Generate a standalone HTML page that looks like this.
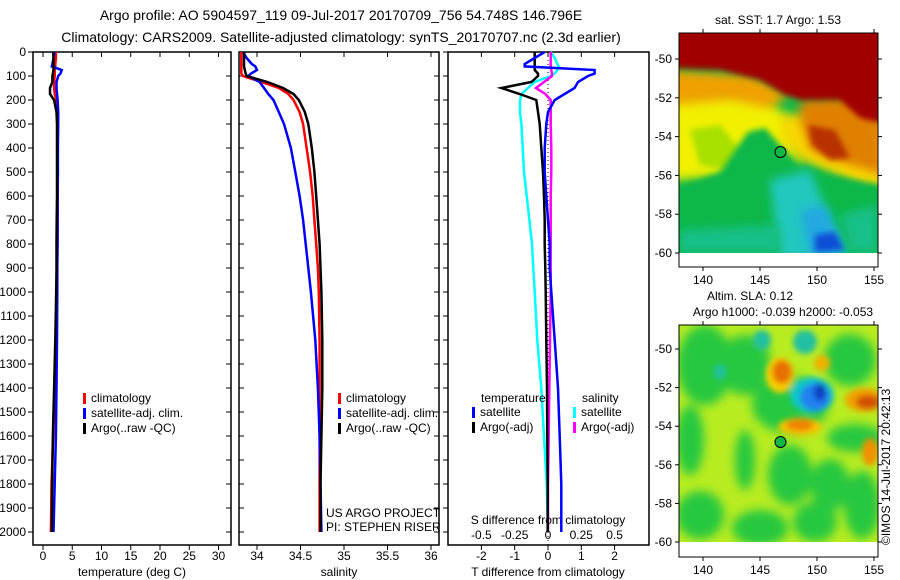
<!DOCTYPE html>
<html><head><meta charset="utf-8"><style>
body{margin:0;background:#fff;}
svg{display:block;font-family:"Liberation Sans",sans-serif;}
text{font-size:12px;fill:#000;}
.tt{font-size:14px;}
</style></head><body>
<svg id="fig" width="900" height="580" viewBox="0 0 900 580">
<defs>
<filter id="bl" x="-20%" y="-20%" width="140%" height="140%"><feGaussianBlur stdDeviation="5"/></filter>
<filter id="bl2" x="-20%" y="-20%" width="140%" height="140%"><feGaussianBlur stdDeviation="3"/></filter>
<clipPath id="c1"><rect x="679" y="33" width="199" height="220"/></clipPath>
<clipPath id="c2"><rect x="679" y="325" width="199" height="217"/></clipPath>
</defs>
<text class="tt" x="341" y="20" text-anchor="middle">Argo profile: AO 5904597_119 09-Jul-2017 20170709_756 54.748S 146.796E</text>
<text class="tt" x="341" y="42" text-anchor="middle">Climatology: CARS2009. Satellite-adjusted climatology: synTS_20170707.nc (2.3d earlier)</text>
<g id="p1"></g>
<g id="p2"></g>
<g id="p3"></g>

<g>
<text x="778" y="24" text-anchor="middle">sat. SST: 1.7 Argo: 1.53</text>
<g clip-path="url(#c1)">
<rect x="679" y="33" width="199" height="220" fill="#10b848"/>
<polygon filter="url(#bl)" fill="#f0f000" points="670,90 760,90 790,120 800,170 679,180 670,180"/>
<polygon filter="url(#bl2)" fill="#a8e000" points="690,130 720,125 740,150 725,170 700,165"/>
<polygon filter="url(#bl)" fill="#f8d800" points="780,115 890,110 890,190 860,185 800,160 782,140"/>
<polygon filter="url(#bl)" fill="#f0a000" points="670,70 750,75 790,95 770,108 730,100 670,105"/>
<polygon filter="url(#bl)" fill="#e08000" points="800,100 880,95 885,175 850,165 810,150 800,120"/>
<polygon filter="url(#bl2)" fill="#b83000" points="808,125 835,130 850,158 830,160 812,145"/>
<polygon filter="url(#bl2)" fill="#a00000" points="670,25 890,25 890,125 860,118 840,100 800,100 785,95 760,80 720,70 670,68"/>
<polygon filter="url(#bl2)" fill="#10b848" points="670,190 700,180 720,172 735,150 748,132 765,128 780,145 800,165 830,175 878,185 890,190 890,260 670,260"/>
<polygon filter="url(#bl)" fill="#20c8c0" points="770,180 810,170 830,220 850,260 780,260"/>
<polygon filter="url(#bl)" fill="#20a8e0" points="800,210 825,205 845,250 810,258"/>
<polygon filter="url(#bl2)" fill="#1050d8" points="815,235 835,232 845,250 815,252"/>
<polygon filter="url(#bl)" fill="#18c088" points="679,230 780,225 780,253 679,253"/>
<polygon filter="url(#bl)" fill="#18c088" points="840,215 878,205 878,253 850,253"/>
</g>
<rect x="679" y="253" width="199" height="14" fill="#fff"/>
<rect x="679" y="33" width="199" height="234" fill="none" stroke="#000"/>
<circle cx="780.5" cy="152" r="5.5" fill="#10b848" stroke="#000"/>
<g id="m1ax"></g>
</g>

<g>
<text x="750" y="300" text-anchor="middle">Altim. SLA: 0.12</text>
<text x="783" y="316" text-anchor="middle">Argo h1000: -0.039 h2000: -0.053</text>
<g clip-path="url(#c2)">
<rect x="679" y="325" width="199" height="217" fill="#b8ec20"/>
<g filter="url(#bl)" fill="#28c840">
<ellipse cx="705" cy="365" rx="28" ry="40"/><ellipse cx="690" cy="440" rx="14" ry="35"/>
<ellipse cx="745" cy="365" rx="26" ry="30"/><ellipse cx="790" cy="475" rx="22" ry="30"/>
<ellipse cx="830" cy="485" rx="20" ry="26"/><ellipse cx="700" cy="515" rx="24" ry="24"/>
<ellipse cx="760" cy="528" rx="28" ry="18"/><ellipse cx="815" cy="522" rx="22" ry="20"/>
<ellipse cx="862" cy="505" rx="18" ry="34"/><ellipse cx="850" cy="360" rx="26" ry="26"/>
<ellipse cx="790" cy="405" rx="38" ry="28"/><ellipse cx="855" cy="438" rx="28" ry="14"/>
<ellipse cx="745" cy="460" rx="10" ry="30"/>
</g>
<g filter="url(#bl2)">
<ellipse cx="762" cy="340" rx="9" ry="10" fill="#20c0a0"/>
<ellipse cx="805" cy="342" rx="12" ry="12" fill="#20c0a0"/>
<ellipse cx="720" cy="372" rx="6" ry="8" fill="#20c0a0"/>
<ellipse cx="780" cy="375" rx="14" ry="18" fill="#f8d000"/>
<ellipse cx="782" cy="372" rx="10" ry="12" fill="#e87000"/>
<ellipse cx="822" cy="363" rx="8" ry="8" fill="#f0b000"/>
<ellipse cx="812" cy="395" rx="22" ry="18" fill="#10c8c8"/>
<ellipse cx="815" cy="397" rx="15" ry="14" fill="#2080f0"/>
<ellipse cx="820" cy="392" rx="6" ry="9" fill="#1040c0"/>
<ellipse cx="800" cy="427" rx="22" ry="9" fill="#f8c800"/>
<ellipse cx="800" cy="425" rx="14" ry="6" fill="#f08000"/>
<ellipse cx="865" cy="400" rx="20" ry="12" fill="#f0a000"/>
<ellipse cx="868" cy="402" rx="12" ry="7" fill="#d05000"/>
<ellipse cx="870" cy="452" rx="8" ry="14" fill="#f09000"/>
</g>
</g>
<rect x="679" y="542" width="199" height="15" fill="#fff"/>
<rect x="679" y="325" width="199" height="232" fill="none" stroke="#000"/>
<circle cx="780.5" cy="442" r="5.5" fill="#10b848" stroke="#000"/>
<g id="m2ax"></g>
<text transform="translate(890,545) rotate(-90)">©IMOS 14-Jul-2017 20:42:13</text>
</g>
</svg>
<script>
const depths=[0,25,50,60,75,90,100,125,150,175,200,250,300,400,500,600,700,800,900,1000,1200,1400,1600,1800,2000];
const tempClim=[2.2,2.2,2.1,2.1,2.0,2.0,2.0,1.9,1.9,2.0,2.3,2.5,2.55,2.5,2.5,2.5,2.5,2.45,2.4,2.35,2.2,2.0,1.75,1.45,1.35];
const tempSat=[2.0,1.8,1.6,1.5,3.2,3.0,2.6,2.3,2.3,2.4,2.5,2.6,2.6,2.55,2.55,2.5,2.5,2.5,2.45,2.45,2.4,2.3,2.2,2.0,1.8];
const tempArgo=[1.75,1.8,1.8,1.8,1.8,1.7,1.6,1.6,1.2,1.2,1.9,2.3,2.4,2.4,2.4,2.4,2.35,2.3,2.3,2.25,2.1,1.9,1.7,1.55,1.5];
const salClim=[33.82,33.82,33.82,33.82,33.82,33.82,33.84,34.05,34.25,34.36,34.42,34.49,34.53,34.57,34.61,34.64,34.66,34.68,34.7,34.71,34.72,34.72,34.72,34.72,34.72];
const salSat=[33.84,33.88,33.94,33.98,34.0,33.93,33.9,34.03,34.08,34.13,34.19,34.25,34.31,34.39,34.44,34.49,34.53,34.56,34.59,34.62,34.67,34.7,34.72,34.73,34.74];
const salArgo=[33.85,33.85,33.85,33.85,33.86,33.87,33.88,34.12,34.3,34.42,34.48,34.55,34.59,34.63,34.66,34.68,34.7,34.72,34.73,34.74,34.75,34.75,34.74,34.73,34.73];
const dTsat=[-0.1,-0.4,-0.7,-0.7,1.4,1.4,1.2,0.9,0.8,0.5,0.2,0.0,-0.05,-0.1,-0.1,-0.05,0.0,0.05,0.05,0.1,0.2,0.3,0.35,0.4,0.4];
const dTargo=[-0.4,-0.4,-0.4,-0.4,-0.4,-0.3,-0.3,-0.5,-1.4,-0.85,-0.35,-0.3,-0.25,-0.2,-0.15,-0.12,-0.1,-0.1,-0.08,-0.07,-0.05,-0.03,-0.02,-0.01,-0.01];
const dSsat=[0.02,0.05,0.07,0.08,0.07,0.05,0.02,-0.1,-0.15,-0.2,-0.21,-0.21,-0.2,-0.19,-0.18,-0.16,-0.14,-0.12,-0.11,-0.1,-0.08,-0.05,-0.03,-0.01,0.0];
const dSargo=[0.02,0.02,0.02,0.02,0.025,0.03,0.03,-0.03,-0.09,-0.02,0.02,0.02,0.02,0.025,0.025,0.02,0.02,0.02,0.02,0.02,0.015,0.01,0.005,0.0,0.0];
const depthTicks=[0,100,200,300,400,500,600,700,800,900,1000,1100,1200,1300,1400,1500,1600,1700,1800,1900,2000];
const tTicks=[0,5,10,15,20,25,30];
const sTicks=[34,34.5,35,35.5,36];
const dtTicks=[-2,-1,0,1,2];
const dsTicks=[-0.5,-0.25,0,0.25,0.5];
const lonTicks=[140,145,150,155];
const latTicks=[-50,-52,-54,-56,-58,-60];

const NS='http://www.w3.org/2000/svg';
const TOP=52,BOT=545;
const yD=d=>TOP+d*0.24;
const xT=t=>43+t*5.85;
const xS=s=>257+(s-34)*87;
const xDT=t=>548+t*33.3;
const xDS=s=>548+s*4*33.3;
function el(tag,attrs,parent,txt){const e=document.createElementNS(NS,tag);for(const k in attrs)e.setAttribute(k,attrs[k]);if(txt!==undefined)e.textContent=txt;parent.appendChild(e);return e;}
function frame(g,x0,x1){el('rect',{x:x0,y:TOP,width:x1-x0,height:BOT-TOP,fill:'#fff',stroke:'#000','stroke-width':1.5},g);}
function line(g,xs,fx,color,name,w){
  const p=el('polyline',{points:depths.map((d,i)=>fx(xs[i]).toFixed(1)+','+yD(d).toFixed(1)).join(' '),fill:'none',stroke:color,'stroke-width':w||2.5},g);
  
  
}
function xticks(g,ticks,fx,y,lab,inTop){
  ticks.forEach(t=>{const x=fx(t);
    el('line',{x1:x,x2:x,y1:BOT,y2:BOT+5,stroke:'#000'},g);
    if(inTop)el('line',{x1:x,x2:x,y1:TOP,y2:TOP+5,stroke:'#000'},g);
    const tx=el('text',{x:x,y:y,'text-anchor':'middle'},g,String(t));
    
    
  });
}
function legend(g,x,items,y0){items.forEach((it,i)=>{const y=y0+i*15;
  el('rect',{x:x,y:y-9,width:3,height:11,fill:it[0]},g);
  const t=el('text',{x:x+8,y:y},g,it[1]);
  
  });}

const g1=document.getElementById('p1');
frame(g1,33,231);
depthTicks.forEach(d=>{const y=yD(d);
  el('line',{x1:28,x2:33,y1:y,y2:y,stroke:'#000'},g1);
  el('line',{x1:231,x2:226,y1:y,y2:y,stroke:'#000'},g1);
  const t=el('text',{x:26,y:y+4,'text-anchor':'end'},g1,String(d));
  
  });
xticks(g1,tTicks,xT,560,true,true);
el('text',{x:132,y:576,'text-anchor':'middle'},g1,'temperature (deg C)');
line(g1,tempClim,xT,'#f00','temp-climatology-line');
line(g1,tempSat,xT,'#00f','temp-satellite-line');
line(g1,tempArgo,xT,'#000','temp-argo-line');
legend(g1,83,[['#f00','climatology'],['#00f','satellite-adj. clim.'],['#000','Argo(..raw -QC)']],402);

const g2=document.getElementById('p2');
frame(g2,239,439);
depthTicks.forEach(d=>{const y=yD(d);el('line',{x1:239,x2:244,y1:y,y2:y,stroke:'#000'},g2);el('line',{x1:439,x2:434,y1:y,y2:y,stroke:'#000'},g2);});
xticks(g2,sTicks,xS,560,true,true);
el('text',{x:339,y:576,'text-anchor':'middle'},g2,'salinity');
line(g2,salClim,xS,'#f00','sal-climatology-line');
line(g2,salSat,xS,'#00f','sal-satellite-line');
line(g2,salArgo,xS,'#000','sal-argo-line');
legend(g2,338,[['#f00','climatology'],['#00f','satellite-adj. clim.'],['#000','Argo(..raw -QC)']],402);
el('text',{x:326,y:517},g2,'US ARGO PROJECT');
el('text',{x:326,y:531},g2,'PI: STEPHEN RISER');

const g3=document.getElementById('p3');
frame(g3,448,649);
depthTicks.forEach(d=>{const y=yD(d);el('line',{x1:443,x2:448,y1:y,y2:y,stroke:'#000'},g3);});
el('line',{x1:548,x2:548,y1:TOP,y2:BOT,stroke:'#000','stroke-dasharray':'1,3'},g3);
xticks(g3,dtTicks,xDT,560,true,true);
dsTicks.forEach(s=>{const t=el('text',{x:xDS(s),y:539,'text-anchor':'middle'},g3,String(s));});
el('text',{x:548,y:524,'text-anchor':'middle'},g3,'S difference from climatology');
el('text',{x:548,y:576,'text-anchor':'middle'},g3,'T difference from climatology');
line(g3,dSsat,xDS,'#0ff','sdiff-satellite-line');
line(g3,dSargo,xDS,'#f0f','sdiff-argo-line');
line(g3,dTargo,xDT,'#000','tdiff-argo-line');
line(g3,dTsat,xDT,'#00f','tdiff-satellite-line');
el('text',{x:481,y:402},g3,'temperature');
el('text',{x:582,y:402},g3,'salinity');
legend(g3,472,[['#00f','satellite'],['#000','Argo(-adj)']],416);
legend(g3,573,[['#0ff','satellite'],['#f0f','Argo(-adj)']],416);

function mapAxes(id,top,bot,lat50,latStep,bottomLabY){
  const g=document.getElementById(id);
  lonTicks.forEach(l=>{const x=703+(l-140)*11.4;
    el('line',{x1:x,x2:x,y1:bot,y2:bot+4,stroke:'#000'},g);el('line',{x1:x,x2:x,y1:top,y2:top-4,stroke:'#000'},g);
    const t=el('text',{x:x,y:bottomLabY,'text-anchor':'middle'},g,String(l));});
  latTicks.forEach(l=>{const y=lat50+(-50-l)*latStep;
    el('line',{x1:675,x2:679,y1:y,y2:y,stroke:'#000'},g);el('line',{x1:878,x2:882,y1:y,y2:y,stroke:'#000'},g);
    const t=el('text',{x:672,y:y+4,'text-anchor':'end'},g,String(l));});
}
mapAxes('m1ax',33,267,59,19.4,284);
mapAxes('m2ax',325,557,349,19.3,574);
</script>
</body></html>
